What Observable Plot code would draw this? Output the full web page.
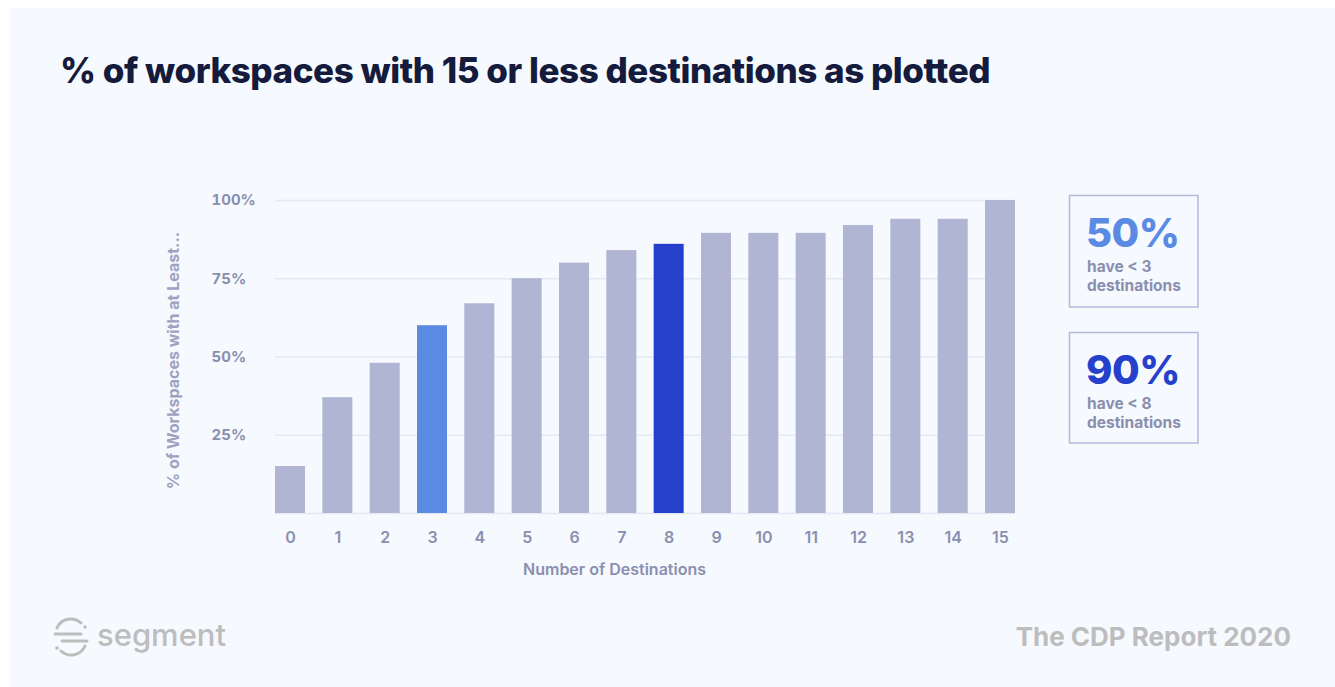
<!DOCTYPE html>
<html>
<head>
<meta charset="utf-8">
<script src="https://cdn.jsdelivr.net/npm/d3@7"></script>
<script src="https://cdn.jsdelivr.net/npm/@observablehq/plot@0.6"></script>
<style>
  html, body { margin: 0; padding: 0; background: #ffffff; }
  body { width: 1335px; height: 687px; position: relative; overflow: hidden; font-family: Inter, "Noto Sans", sans-serif; }
  #panel { position: absolute; left: 10px; top: 8px; right: 0; bottom: 0; background: #F6F9FE; }
  #chart { position: absolute; left: 0; top: 0; }
  #overlay { position: absolute; left: 0; top: 0; pointer-events: none; }
</style>
</head>
<body>
<div id="panel"></div>
<div id="chart"></div>
<svg id="overlay" width="1335" height="687" xmlns="http://www.w3.org/2000/svg" font-family="Inter, 'Noto Sans', sans-serif">
  <text x="60" y="83" font-size="35" font-weight="800" fill="#141B3D" letter-spacing="-0.45">% of workspaces with 15 or less destinations as plotted</text>

  <rect x="1069.5" y="195.5" width="128.5" height="111.5" fill="none" stroke="#B5BADB" stroke-width="1.5"/>
  <text x="1086" y="247" font-size="40" font-weight="800" fill="#5A8AE3" letter-spacing="-0.5">50%</text>
  <text x="1087" y="272" font-size="15.5" font-weight="700" fill="#8A8FAF">have &lt; 3</text>
  <text x="1087" y="291" font-size="15.5" font-weight="700" fill="#8A8FAF">destinations</text>

  <rect x="1069.5" y="332.5" width="128.5" height="110.5" fill="none" stroke="#B5BADB" stroke-width="1.5"/>
  <text x="1086" y="384" font-size="40" font-weight="800" fill="#2541CC" letter-spacing="-0.5">90%</text>
  <text x="1087" y="409" font-size="15.5" font-weight="700" fill="#8A8FAF">have &lt; 8</text>
  <text x="1087" y="428" font-size="15.5" font-weight="700" fill="#8A8FAF">destinations</text>

  <g fill="none" stroke="#BDBDBD" stroke-width="3" stroke-linecap="round">
    <path d="M 57 628 A 15 15 0 0 1 81 623"/>
    <path d="M 85 646 A 15 15 0 0 1 61 651"/>
    <line x1="55" y1="634" x2="81" y2="634"/>
    <line x1="62" y1="641" x2="87" y2="641"/>
  </g>
  <circle cx="85" cy="627" r="1.8" fill="#BDBDBD"/>
  <circle cx="57" cy="648" r="1.8" fill="#BDBDBD"/>
  <text x="97" y="646" font-size="31" font-weight="500" fill="#BDBDBD">segment</text>

  <text x="1291" y="646" font-size="26" font-weight="700" fill="#BDBDBD" text-anchor="end">The CDP Report 2020</text>
</svg>
<script>
// ---- data ----
const destinations = ["0","1","2","3","4","5","6","7","8","9","10","11","12","13","14","15"];
const shares = [15, 37, 48, 60, 67, 75, 80, 84, 86, 89.5, 89.5, 89.5, 92, 94, 94, 100];
const yTicks = [25, 50, 75, 100];
const highlightHalf = "3";
const highlightNinety = "8";

const rows = destinations.map((d, i) => ({dest: d, share: shares[i]}));

const gray = "#B0B5D3";
const lightBlue = "#5B8AE3";
const darkBlue = "#2541CC";
const tickColor = "#8A8FAF";

const chart = Plot.plot({
  width: 1335,
  height: 600,
  marginLeft: 275,
  marginRight: 320,
  marginTop: 200,
  marginBottom: 87,
  style: {fontFamily: "Inter, 'Noto Sans', sans-serif", background: "transparent"},
  x: {domain: destinations, paddingInner: 0.366, paddingOuter: 0, round: false},
  y: {domain: [0, 100]},
  color: {type: "identity"},
  marks: [
    Plot.ruleY([0, ...yTicks], {stroke: "#E3EAF2", strokeWidth: 1.6}),
    Plot.barY(rows, {
      x: "dest",
      y: "share",
      fill: d => d.dest === highlightHalf ? lightBlue : d.dest === highlightNinety ? darkBlue : gray
    }),
    Plot.axisX({tickSize: 0, tickPadding: 18, fontSize: 16, fontWeight: 600, fill: tickColor, label: null}),
    Plot.axisY({ticks: yTicks, tickFormat: d => d + "%", tickSize: 0, textAnchor: "start", dx: -55,
      fontSize: 15, fontWeight: 700, fill: tickColor, label: null}),
    Plot.text(["Number of Destinations"], {frameAnchor: "bottom", dx: -31, dy: 61,
      fontSize: 16, fontWeight: 600, fill: tickColor}),
    Plot.text(["% of Workspaces with at Least..."], {frameAnchor: "left", textAnchor: "middle", rotate: -90, dx: -102, dy: 3.5,
      fontSize: 16, fontWeight: 700, fill: "#9EA2C0"})
  ]
});
document.getElementById("chart").appendChild(chart);
</script>
</body>
</html>
